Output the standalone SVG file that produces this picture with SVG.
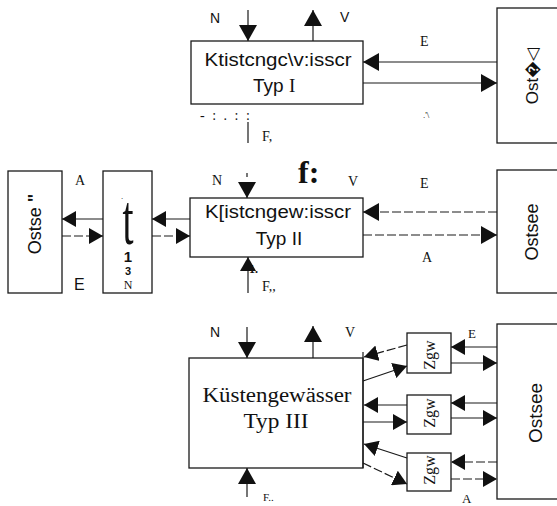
<svg xmlns="http://www.w3.org/2000/svg" width="557" height="506" viewBox="0 0 557 506">
<style>
.box{fill:#fff;stroke:#1a1a1a;stroke-width:1.3}
.ln{stroke:#1a1a1a;stroke-width:1.2;fill:none}
.dash{stroke-dasharray:9 3}
.sans{font-family:"Liberation Sans",Arial,sans-serif;fill:#111}
.serif{font-family:"Liberation Serif","Times New Roman",serif;fill:#111}
.lbl{font-size:14px}
</style>
<defs>
<marker id="ah" viewBox="0 0 16 18" refX="16" refY="9" markerWidth="16" markerHeight="18" markerUnits="userSpaceOnUse" orient="auto"><path d="M0,0 L16,9 L0,18 z" fill="#111"/></marker>
<marker id="as" viewBox="0 0 14 16" refX="14" refY="8" markerWidth="14" markerHeight="16" markerUnits="userSpaceOnUse" orient="auto"><path d="M0,0 L14,8 L0,16 z" fill="#111"/></marker>
</defs>
<rect width="557" height="506" fill="#fff"/>

<!-- Top section -->
<g id="typ1">
<rect class="box" x="191" y="41" width="172" height="63"/>
<text class="sans" x="278" y="66" font-size="18" text-anchor="middle" textLength="147" lengthAdjust="spacingAndGlyphs">Ktistcngc\v:isscr</text>
<text class="sans" x="253" y="92" font-size="19">Typ <tspan class="serif">I</tspan></text>
</g>
<g id="ostsee1">
<rect class="box" x="497" y="8" width="70" height="135"/>
<text class="sans" transform="translate(532,76) rotate(-90)" font-size="17" text-anchor="middle" dominant-baseline="central">Ost�◁</text>
</g>
<g id="labels1">
<text class="sans lbl" x="210" y="23">N</text>
<text class="sans lbl" x="340" y="22">V</text>
<text class="serif lbl" x="420" y="46">E</text>
<text class="serif" x="423" y="118" font-size="9">.'\</text>
<text class="serif" x="200" y="120" font-size="14" letter-spacing="2">- : . : :</text>
<text class="serif lbl" x="262" y="141">F,</text>
</g>

<!-- Middle section -->
<g id="typ2">
<rect class="box" x="190" y="198" width="173" height="59"/>
<text class="sans" x="278" y="218" font-size="18" text-anchor="middle" textLength="146" lengthAdjust="spacingAndGlyphs">K[istcngew:isscr</text>
<text class="sans" x="279" y="245" font-size="19" text-anchor="middle">Typ II</text>
</g>
<g id="ostsee2">
<rect class="box" x="497" y="170" width="70" height="123"/>
<text class="sans" transform="translate(532,232) rotate(-90)" font-size="18" text-anchor="middle" dominant-baseline="central">Ostsee</text>
</g>
<g id="ostse-left">
<rect class="box" x="8" y="171" width="54" height="122"/>
<text class="sans" transform="translate(35,224) rotate(-90)" font-size="18" text-anchor="middle" dominant-baseline="central">Ostse <tspan font-weight="bold">"</tspan></text>
</g>
<g id="t-box">
<rect class="box" x="103" y="171" width="49" height="122"/>
<text class="serif" transform="translate(128,244) scale(0.55,1)" font-size="72" text-anchor="middle">t</text>
<text class="sans" text-anchor="middle"><tspan x="122" y="201" font-size="8" class="serif">·</tspan><tspan x="128" y="262" font-size="15" font-weight="bold">1</tspan><tspan x="128" y="275" font-size="11" font-weight="bold">3</tspan><tspan x="128" y="289" font-size="12" class="serif">N</tspan></text>
</g>
<g id="labels2">
<text class="serif" x="298" y="183" font-size="32" font-weight="bold">f:</text>
<text class="serif lbl" x="212" y="185">N</text>
<text class="serif lbl" x="348" y="186">V</text>
<text class="serif lbl" x="420" y="188">E</text>
<text class="serif lbl" x="422" y="262">A</text>
<text class="serif lbl" x="75" y="185">A</text>
<text class="sans" x="74" y="290" font-size="16">E</text>
<text class="serif" x="249" y="273" font-size="12" font-weight="bold">1.</text>
<text class="serif lbl" x="262" y="291">F,,</text>
</g>

<!-- Bottom section -->
<g id="typ3">
<rect class="box" x="189" y="358" width="174" height="110"/>
<text class="serif" x="277" y="402" font-size="20" text-anchor="middle" textLength="149" lengthAdjust="spacingAndGlyphs">Küstengewässer</text>
<text class="serif" x="276" y="428" font-size="20" text-anchor="middle" textLength="65" lengthAdjust="spacingAndGlyphs">Typ III</text>
</g>
<g id="ostsee3">
<rect class="box" x="497" y="324" width="70" height="175"/>
<text class="sans" transform="translate(535,413) rotate(-90)" font-size="19" text-anchor="middle" dominant-baseline="central">Ostsee</text>
</g>
<g id="zgw1">
<rect class="box" x="407" y="333" width="44" height="40"/>
<text class="serif" transform="translate(429,355) rotate(-90)" font-size="16" text-anchor="middle" dominant-baseline="central">Zgw</text>
</g>
<g id="zgw2">
<rect class="box" x="407" y="395" width="44" height="39"/>
<text class="serif" transform="translate(429,413) rotate(-90)" font-size="16" text-anchor="middle" dominant-baseline="central">Zgw</text>
</g>
<g id="zgw3">
<rect class="box" x="407" y="453" width="44" height="38"/>
<text class="serif" transform="translate(429,470) rotate(-90)" font-size="16" text-anchor="middle" dominant-baseline="central">Zgw</text>
</g>
<g id="labels3">
<text class="sans lbl" x="210" y="337">N</text>
<text class="serif lbl" x="345" y="337">V</text>
<text class="serif" x="468" y="338" font-size="13">E</text>
<text class="serif" x="462" y="503" font-size="13">A</text>
<text class="serif" x="263" y="501" font-size="11">F..</text>
</g>

<!-- Connectors -->
<g id="connectors">
<line class="ln" x1="248" y1="10" x2="248" y2="41" marker-end="url(#ah)"/>
<line class="ln" x1="313" y1="41" x2="313" y2="10" marker-end="url(#ah)"/>
<line class="ln" x1="497" y1="62" x2="363" y2="62" marker-end="url(#ah)"/>
<line class="ln" x1="363" y1="83" x2="497" y2="83" marker-end="url(#ah)"/>
<line class="ln" x1="248" y1="122" x2="248" y2="143"/>

<line class="ln" x1="247" y1="173" x2="247" y2="177"/>
<line class="ln" x1="247" y1="184" x2="247" y2="198" marker-end="url(#ah)"/>
<line class="ln" x1="248" y1="293" x2="248" y2="257" marker-end="url(#as)"/>
<line class="ln dash" x1="497" y1="212" x2="363" y2="212" marker-end="url(#ah)"/>
<line class="ln dash" x1="363" y1="235" x2="497" y2="235" marker-end="url(#ah)"/>
<line class="ln" x1="103" y1="219" x2="62" y2="219" marker-end="url(#as)"/>
<line class="ln dash" x1="62" y1="236" x2="103" y2="236" marker-end="url(#as)"/>
<line class="ln" x1="190" y1="219" x2="152" y2="219" marker-end="url(#as)"/>
<line class="ln dash" x1="152" y1="236" x2="190" y2="236" marker-end="url(#as)"/>

<line class="ln" x1="247" y1="327" x2="247" y2="358" marker-end="url(#ah)"/>
<line class="ln" x1="313" y1="358" x2="313" y2="326" marker-end="url(#ah)"/>
<line class="ln" x1="247" y1="497" x2="247" y2="468" marker-end="url(#ah)"/>
<line class="ln" x1="363" y1="352" x2="363" y2="468"/>

<line class="ln" x1="497" y1="347" x2="451" y2="347" marker-end="url(#as)"/>
<line class="ln" x1="451" y1="363" x2="497" y2="363" marker-end="url(#as)"/>
<line class="ln" x1="497" y1="403" x2="451" y2="403" marker-end="url(#as)"/>
<line class="ln" x1="451" y1="418" x2="497" y2="418" marker-end="url(#as)"/>
<line class="ln dash" x1="497" y1="462" x2="451" y2="462" marker-end="url(#as)"/>
<line class="ln dash" x1="451" y1="479" x2="497" y2="479" marker-end="url(#as)"/>

<line class="ln dash" x1="407" y1="345" x2="364" y2="357" marker-end="url(#as)"/>
<line class="ln" x1="363" y1="381" x2="407" y2="366" marker-end="url(#as)"/>
<line class="ln" x1="407" y1="405" x2="364" y2="405" marker-end="url(#as)"/>
<line class="ln" x1="363" y1="422" x2="407" y2="422" marker-end="url(#as)"/>
<line class="ln" x1="407" y1="458" x2="364" y2="444" marker-end="url(#as)"/>
<line class="ln dash" x1="363" y1="463" x2="407" y2="484" marker-end="url(#as)"/>
</g>
</svg>
